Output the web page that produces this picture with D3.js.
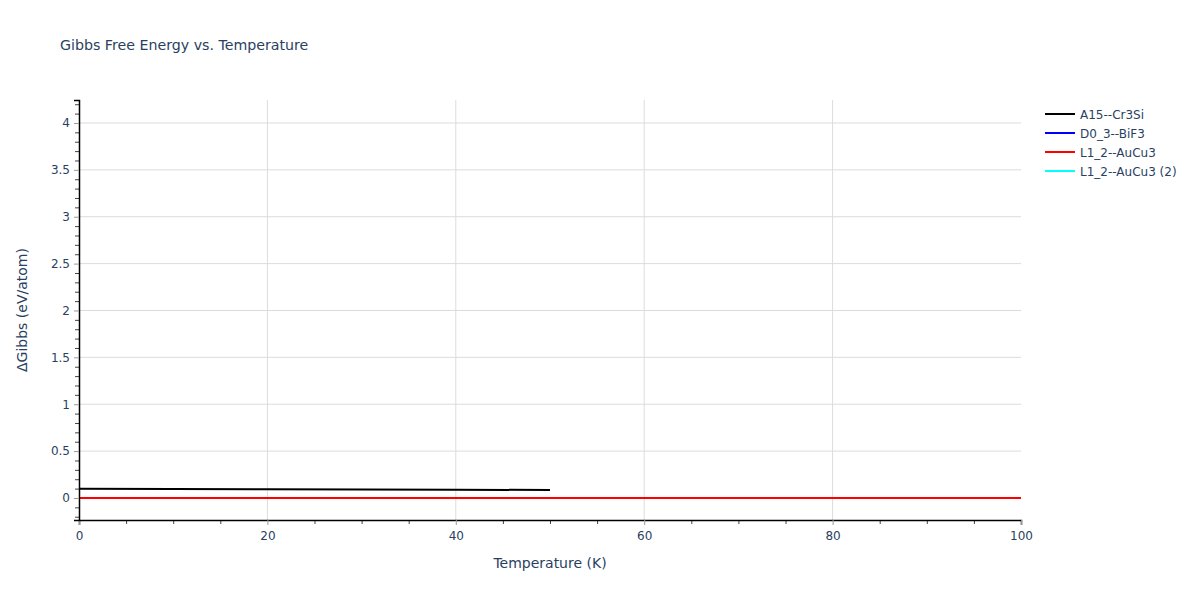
<!DOCTYPE html>
<html><head><meta charset="utf-8">
<script src="https://cdn.jsdelivr.net/npm/d3@7"></script>
<style>body{margin:0;background:#fff;} text{font-family:"DejaVu Sans",verdana,arial,sans-serif;}</style>
</head><body><svg id="c" width="1200" height="600"></svg>
<script>
const seriesNames = ["A15--Cr3Si", "D0_3--BiF3", "L1_2--AuCu3", "L1_2--AuCu3 (2)"];
const seriesColors = ["#000000", "#0000ff", "#ff0000", "#00ffff"];
const a15Temps = [0, 10, 20, 30, 40, 50];
const a15Gibbs = [0.098, 0.096, 0.093, 0.091, 0.088, 0.085];
const d03Temps = [0, 100];
const d03Gibbs = [0, 0];
const l12Temps = [0, 100];
const l12Gibbs = [0, 0];
const l12bTemps = [];
const l12bGibbs = [];
const xTicks = [0, 20, 40, 60, 80, 100];
const yTicks = [0, 0.5, 1, 1.5, 2, 2.5, 3, 3.5, 4];

const series = [
  {name: seriesNames[0], color: seriesColors[0], t: a15Temps, g: a15Gibbs},
  {name: seriesNames[1], color: seriesColors[1], t: d03Temps, g: d03Gibbs},
  {name: seriesNames[2], color: seriesColors[2], t: l12Temps, g: l12Gibbs},
  {name: seriesNames[3], color: seriesColors[3], t: l12bTemps, g: l12bGibbs}
];

const svg = d3.select("#c");
const L = 79, R = 1021, T = 100, B = 520;
const x = d3.scaleLinear().domain([0, 100]).range([L, R]);
const y = d3.scaleLinear().domain([-0.235, 4.245]).range([B, T]);
const txt = "#2a3f5f";

// grid
svg.append("g").selectAll("line").data(xTicks.filter(d => d > 0 && d < 100)).join("line")
  .attr("x1", d => x(d)).attr("x2", d => x(d)).attr("y1", T).attr("y2", B)
  .attr("stroke", "#dcdcdc").attr("stroke-width", 1);
svg.append("g").selectAll("line").data(yTicks).join("line")
  .attr("x1", L).attr("x2", R).attr("y1", d => y(d)).attr("y2", d => y(d))
  .attr("stroke", "#dcdcdc").attr("stroke-width", 1);

// lines
const line = d3.line().x(d => x(d[0])).y(d => y(d[1]));
const drawOrder = [3, 1, 0, 2];
drawOrder.forEach(i => {
  const s = series[i];
  const pts = s.t.map((t, k) => [t, s.g[k]]);
  if (pts.length) svg.append("path").datum(pts).attr("d", line)
    .attr("fill", "none").attr("stroke", s.color).attr("stroke-width", 2);
});

// axes
const xAxis = svg.append("g").attr("transform", `translate(0,${B})`)
  .call(d3.axisBottom(x).tickValues(xTicks).tickSize(5).tickPadding(6).tickFormat(d3.format("d")));
const xMinor = svg.append("g").attr("transform", `translate(0,${B})`)
  .call(d3.axisBottom(x).tickValues(d3.range(5, 100, 5).filter(v => v % 20 !== 0)).tickSize(4).tickFormat(""));
const yAxis = svg.append("g").attr("transform", `translate(${L},0)`)
  .call(d3.axisLeft(y).tickValues(yTicks).tickSize(5).tickPadding(4).tickFormat(d => d3.format("")(d)));
const yMinor = svg.append("g").attr("transform", `translate(${L},0)`)
  .call(d3.axisLeft(y).tickValues(d3.range(-2, 43).map(v => v / 10).filter(v => Math.round(v * 10) % 5 !== 0)).tickSize(4).tickFormat(""));
[xAxis, yAxis, xMinor, yMinor].forEach(g => {
  g.select(".domain").attr("stroke", "#000").attr("stroke-width", 1.5);
  g.selectAll("text").attr("fill", txt).style("font-size", "12px");
});
xAxis.selectAll(".tick line").attr("stroke", "#999");
yAxis.selectAll(".tick line").attr("stroke", "#999");
xMinor.selectAll(".tick line").attr("stroke", "#444");
yMinor.selectAll(".tick line").attr("stroke", "#444");
xMinor.select(".domain").remove(); yMinor.select(".domain").remove();
xAxis.raise(); yAxis.raise();
xAxis.selectAll(".tick line").lower(); yAxis.selectAll(".tick line").lower();

// titles
svg.append("text").attr("x", 60).attr("y", 50).attr("fill", txt).style("font-size", "14.2px")
  .text("Gibbs Free Energy vs. Temperature");
svg.append("text").attr("x", (L + R) / 2).attr("y", 568).attr("text-anchor", "middle")
  .attr("fill", txt).style("font-size", "14px").text("Temperature (K)");
svg.append("text").attr("transform", `translate(27,${(T + B) / 2}) rotate(-90)`).attr("text-anchor", "middle")
  .attr("fill", txt).style("font-size", "14px").text("ΔGibbs (eV/atom)");

// legend
const lg = svg.append("g").attr("transform", "translate(1045,114)");
series.forEach((s, i) => {
  const g = lg.append("g").attr("transform", `translate(0,${i * 19})`);
  g.append("line").attr("x1", 0).attr("x2", 30).attr("y1", 0).attr("y2", 0)
    .attr("stroke", s.color).attr("stroke-width", 2);
  g.append("text").attr("x", 35).attr("y", 4.5).attr("fill", txt).style("font-size", "12px").text(s.name);
});
</script></body></html>
